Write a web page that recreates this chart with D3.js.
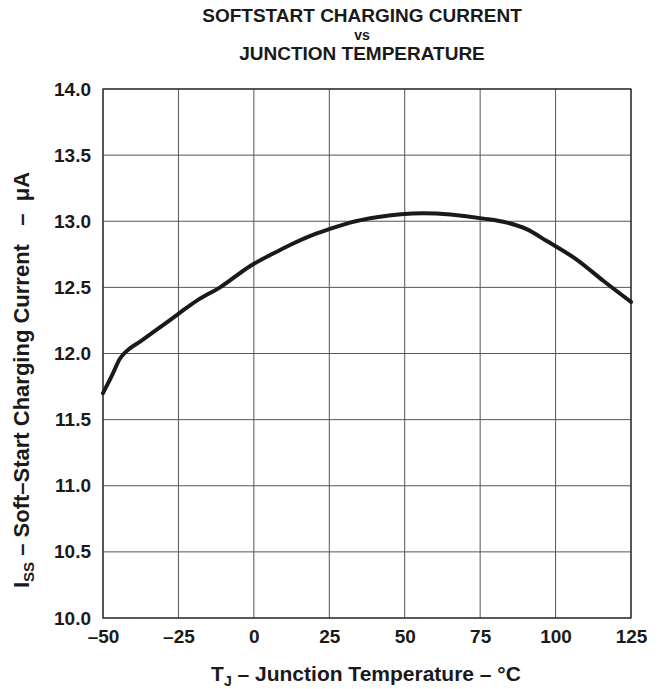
<!DOCTYPE html>
<html><head><meta charset="utf-8">
<script src="https://cdn.jsdelivr.net/npm/d3@7"></script>
<style>body{margin:0;background:#fff}svg{display:block}text{font-family:"Liberation Sans",Arial,sans-serif;font-weight:bold;fill:#1a1a1a}</style>
</head><body><svg id="c" width="660" height="689"></svg>
<script>
const temps = [-50,-47.1,-44.4,-42.1,-37.7,-32.2,-25,-18.9,-11.2,-1.3,7.6,12,20,25,31.9,40.7,56.2,76.1,83.8,90.4,97.1,107,115.8,125];
const current = [11.70,11.83,11.96,12.02,12.09,12.18,12.30,12.40,12.50,12.66,12.77,12.82,12.90,12.94,12.99,13.03,13.06,13.02,12.99,12.94,12.85,12.71,12.55,12.39];
const xTicks = [-50,-25,0,25,50,75,100,125];
const yTicks = [10.0,10.5,11.0,11.5,12.0,12.5,13.0,13.5,14.0];
const titleLines = ["SOFTSTART CHARGING CURRENT","vs","JUNCTION TEMPERATURE"];

const svg = d3.select("#c");
const L=103,R=631,T=89,B=618;
const x = d3.scaleLinear().domain([-50,125]).range([L,R]);
const y = d3.scaleLinear().domain([10,14]).range([B,T]);

const g = svg.append("g");
g.selectAll(".vg").data(xTicks).join("line").attr("x1",d=>x(d)).attr("x2",d=>x(d)).attr("y1",T).attr("y2",B).attr("stroke","#555").attr("stroke-width",1);
g.selectAll(".hg").data(yTicks).join("line").attr("x1",L).attr("x2",R).attr("y1",d=>y(d)).attr("y2",d=>y(d)).attr("stroke","#555").attr("stroke-width",1);
g.append("rect").attr("x",L).attr("y",T).attr("width",R-L).attr("height",B-T).attr("fill","none").attr("stroke","#222").attr("stroke-width",1.2);

const tf = "'Liberation Sans',Arial,sans-serif";
const xa = svg.append("g").attr("transform",`translate(0,${B})`).call(d3.axisBottom(x).tickValues(xTicks).tickSize(0).tickPadding(12).tickFormat(d=>d<0?"\u2013"+Math.abs(d):d));
xa.select(".domain").remove();
xa.selectAll("text").style("font-size","19px").style("font-family",tf).style("font-weight","bold").attr("fill","#1a1a1a");
const ya = svg.append("g").attr("transform",`translate(${L},0)`).call(d3.axisLeft(y).tickValues(yTicks).tickSize(0).tickPadding(12).tickFormat(d3.format(".1f")));
ya.select(".domain").remove();
ya.selectAll("text").style("font-size","19px").style("font-family",tf).style("font-weight","bold").attr("fill","#1a1a1a");

const line = d3.line().x((d,i)=>x(temps[i])).y(d=>y(d)).curve(d3.curveMonotoneX);
svg.append("path").datum(current).attr("d",line).attr("fill","none").attr("stroke","#1a1a1a").attr("stroke-width",4).attr("stroke-linejoin","round").attr("stroke-linecap","round");

const tx=362;
svg.append("text").attr("x",tx).attr("y",22).attr("text-anchor","middle").style("font-size","19px").text(titleLines[0]);
svg.append("text").attr("x",tx).attr("y",39.5).attr("text-anchor","middle").style("font-size","14px").text(titleLines[1]);
svg.append("text").attr("x",tx).attr("y",60).attr("text-anchor","middle").style("font-size","19px").text(titleLines[2]);

const xt = svg.append("text").attr("x",366).attr("y",681).attr("text-anchor","middle").style("font-size","21px");
xt.append("tspan").text("T");
xt.append("tspan").attr("dy",5).style("font-size","14px").text("J");
xt.append("tspan").attr("dy",-5).text(" \u2013 Junction Temperature \u2013 \u00b0C");

const yt = svg.append("text").attr("transform",`translate(29,380) rotate(-90)`).attr("text-anchor","middle").style("font-size","22px");
yt.append("tspan").text("I");
yt.append("tspan").attr("dy",5).style("font-size","15px").text("SS");
yt.append("tspan").attr("dy",-5).attr("xml:space","preserve").style("white-space","pre").text(" \u2013 Soft\u2013Start Charging Current   \u2013  \u03bcA");
</script></body></html>
